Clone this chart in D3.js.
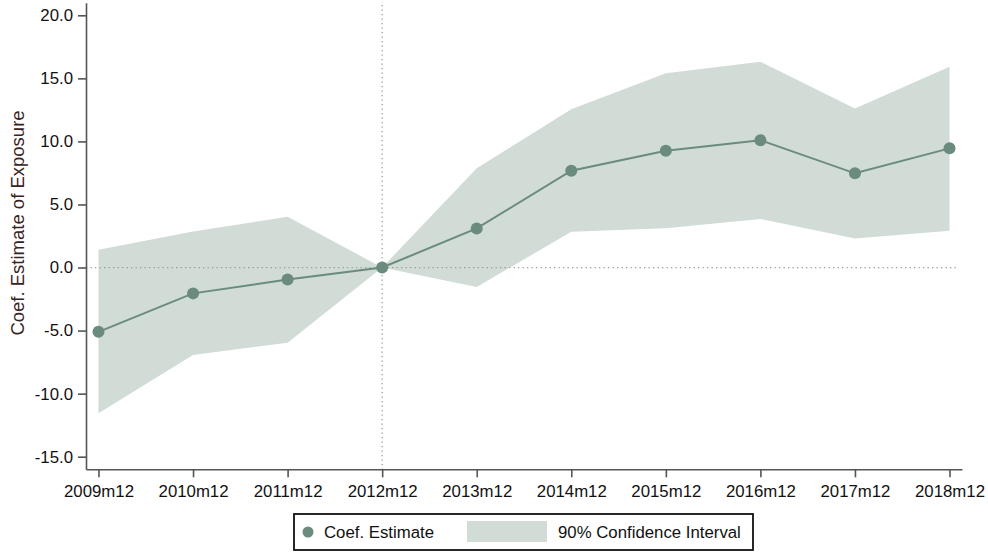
<!DOCTYPE html>
<html>
<head>
<meta charset="utf-8">
<script src="https://cdn.jsdelivr.net/npm/d3@7"></script>
<style>
  html, body { margin: 0; padding: 0; background: #fff; }
  svg { display: block; font-family: "Liberation Sans", Arial, sans-serif; }
</style>
</head>
<body>
<svg id="chart" width="988" height="552"></svg>
<script>
// Event-study estimates by year, with 90% confidence bounds
const periods = ["2009m12", "2010m12", "2011m12", "2012m12", "2013m12",
                 "2014m12", "2015m12", "2016m12", "2017m12", "2018m12"];
const coefEstimate = [-5.1, -2.05, -0.95, 0.0, 3.1, 7.68, 9.26, 10.1, 7.47, 9.45];
const ciUpper = [1.4, 2.85, 4.03, 0.0, 7.87, 12.55, 15.4, 16.32, 12.62, 15.92];
const ciLower = [-11.56, -6.94, -5.96, 0.0, -1.55, 2.84, 3.11, 3.85, 2.31, 2.92];
const yTicks = [-15, -10, -5, 0, 5, 10, 15, 20];
const yTickLabels = ["-15.0", "-10.0", "-5.0", "0.0", "5.0", "10.0", "15.0", "20.0"];
const basePeriod = "2012m12";

const svg = d3.select("#chart");
const plotLeft = 86, plotRight = 962, plotTop = 2.7, plotBottom = 469.3;

const x = d3.scalePoint().domain(periods).range([plotLeft, plotRight]).padding(0.132);
const y = d3.scaleLinear().domain([-16, 21]).range([plotBottom, plotTop]);

const markColor = "#6b8b7e";
const bandColor = "#d1dcd7";
const labelSize = "16.8px";

const rows = periods.map((p, i) => ({ p, est: coefEstimate[i], lo: ciLower[i], hi: ciUpper[i] }));

// confidence band
svg.append("path")
  .datum(rows)
  .attr("fill", bandColor)
  .attr("d", d3.area().x(d => x(d.p)).y0(d => y(d.lo)).y1(d => y(d.hi)));

// reference lines at zero and the base period
svg.append("line")
  .attr("x1", plotLeft).attr("x2", 959)
  .attr("y1", y(0)).attr("y2", y(0))
  .attr("stroke", "#9a9a9a").attr("stroke-width", 1.3)
  .attr("stroke-dasharray", "1.3 3.2");
svg.append("line")
  .attr("x1", x(basePeriod)).attr("x2", x(basePeriod))
  .attr("y1", 5).attr("y2", plotBottom)
  .attr("stroke", "#9a9a9a").attr("stroke-width", 1.3)
  .attr("stroke-dasharray", "1.3 3.2");

// estimate line and markers
svg.append("path")
  .datum(rows)
  .attr("fill", "none")
  .attr("stroke", markColor)
  .attr("stroke-width", 2)
  .attr("d", d3.line().x(d => x(d.p)).y(d => y(d.est)));
svg.append("g").selectAll("circle")
  .data(rows).join("circle")
  .attr("cx", d => x(d.p)).attr("cy", d => y(d.est))
  .attr("r", 6).attr("fill", markColor);

// axes
const yAxis = svg.append("g")
  .attr("transform", `translate(${plotLeft},0)`)
  .call(d3.axisLeft(y).tickValues(yTicks)
    .tickFormat((d, i) => yTickLabels[i]).tickSize(8).tickSizeOuter(0).tickPadding(5));
const xAxis = svg.append("g")
  .attr("transform", `translate(0,${plotBottom})`)
  .call(d3.axisBottom(x).tickSize(8).tickSizeOuter(0).tickPadding(8));

[yAxis, xAxis].forEach(g => {
  g.select(".domain").attr("stroke", "#555").attr("stroke-width", 1.6);
  g.selectAll(".tick line").attr("stroke", "#555").attr("stroke-width", 1.6);
  g.selectAll(".tick text").attr("fill", "#111").style("font-size", labelSize)
    .style("font-family", "'Liberation Sans', Arial, sans-serif");
});

// y axis title
svg.append("text")
  .attr("transform", `translate(24,${223}) rotate(-90)`)
  .attr("text-anchor", "middle")
  .attr("fill", "#3a2222")
  .style("font-size", "18.5px")
  .text("Coef. Estimate of Exposure");

// legend
const lg = svg.append("g");
lg.append("rect")
  .attr("x", 294).attr("y", 514).attr("width", 459).attr("height", 36)
  .attr("fill", "#fff").attr("stroke", "#111").attr("stroke-width", 1.8);
lg.append("circle").attr("cx", 308).attr("cy", 532).attr("r", 5.5).attr("fill", markColor);
lg.append("text").attr("x", 324).attr("y", 538).style("font-size", labelSize)
  .attr("fill", "#111").text("Coef. Estimate");
lg.append("rect").attr("x", 467).attr("y", 521).attr("width", 80).attr("height", 21)
  .attr("fill", bandColor);
lg.append("text").attr("x", 558).attr("y", 538).style("font-size", labelSize)
  .attr("fill", "#111").text("90% Confidence Interval");
</script>
</body>
</html>
